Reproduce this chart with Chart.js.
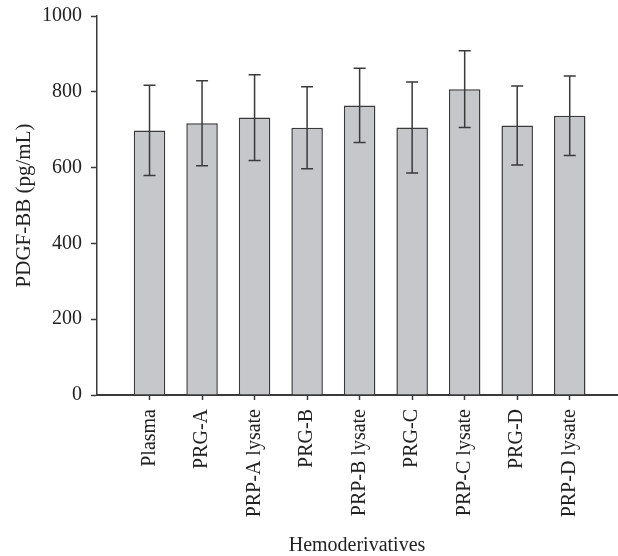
<!DOCTYPE html>
<html>
<head>
<meta charset="utf-8">
<script src="https://cdn.jsdelivr.net/npm/chart.js@4.4.1/dist/chart.umd.min.js"></script>
<style>
  html, body { margin: 0; padding: 0; background: #fff; }
  #wrap { width: 618px; height: 556px; }
</style>
</head>
<body>
<div id="wrap"><canvas id="myChart" width="618" height="556"></canvas></div>
<script>
// values
var categories = ['Plasma', 'PRG-A', 'PRP-A lysate', 'PRG-B', 'PRP-B lysate',
                  'PRG-C', 'PRP-C lysate', 'PRG-D', 'PRP-D lysate'];
var means = [698, 717, 732, 705, 764, 706, 807, 711, 737];
var sds = [119, 112, 113, 108, 98, 120, 101, 104, 105];
var yTicks = [0, 200, 400, 600, 800, 1000];

var ink = '#3a3a3a';
var serif = "'Liberation Serif', 'DejaVu Serif', serif";

// bars sit at x = 1..n on a linear axis, like the original plot
var points = [];
for (let i = 0; i < categories.length; i++) {
    points.push({ x: i + 1, y: means[i] });
}

const errorBars = {
    id: 'errorBars',
    afterDatasetsDraw(chart) {
        const ctx = chart.ctx;
        const yScale = chart.scales.y;
        const meta = chart.getDatasetMeta(0);
        ctx.save();
        ctx.strokeStyle = ink;
        ctx.lineWidth = 1.5;
        meta.data.forEach(function (bar, i) {
            var top = yScale.getPixelForValue(means[i] + sds[i]);
            var bottom = yScale.getPixelForValue(means[i] - sds[i]);
            var half = 6;
            ctx.beginPath();
            ctx.moveTo(bar.x, top);
            ctx.lineTo(bar.x, bottom);
            ctx.moveTo(bar.x - half, top);
            ctx.lineTo(bar.x + half, top);
            ctx.moveTo(bar.x - half, bottom);
            ctx.lineTo(bar.x + half, bottom);
            ctx.stroke();
        });
        ctx.restore();
    }
};

const ctx = document.getElementById('myChart');

new Chart(ctx, {
    type: 'bar',
    data: {
        datasets: [{
            label: 'PDGF-BB',
            data: points,
            backgroundColor: '#c5c7cb',
            borderColor: ink,
            borderWidth: 1.5,
            categoryPercentage: 1.0,
            barPercentage: 0.6
        }]
    },
    options: {
        responsive: false,
        animation: false,
        events: [],
        layout: { padding: { top: 16, right: 1, left: 0, bottom: 0 } },
        plugins: {
            legend: { display: false },
            tooltip: { enabled: false }
        },
        scales: {
            x: {
                type: 'linear',
                min: 0,
                max: 9.9,
                offset: false,
                afterBuildTicks: function (scale) {
                    scale.ticks = categories.map(function (c, i) { return { value: i + 1 }; });
                },
                afterFit: function (scale) {
                    scale.height = 161;
                    scale.paddingLeft = 0;
                    scale.paddingRight = 0;
                },
                ticks: {
                    autoSkip: false,
                    minRotation: 90,
                    maxRotation: 90,
                    padding: 9,
                    color: '#222',
                    font: { family: serif, size: 20 },
                    callback: function (v) { return categories[v - 1] || ''; }
                },
                grid: {
                    offset: false,
                    drawOnChartArea: false,
                    drawTicks: true,
                    tickLength: 5,
                    tickColor: ink,
                    tickWidth: 1.5
                },
                border: { display: true, color: ink, width: 2 },
                title: {
                    display: true,
                    text: 'Hemoderivatives',
                    color: '#222',
                    font: { family: serif, size: 20 },
                    padding: { top: 0, bottom: -2 }
                }
            },
            y: {
                min: 0,
                max: 1000,
                afterBuildTicks: function (scale) {
                    scale.ticks = yTicks.map(function (v) { return { value: v }; });
                },
                afterFit: function (scale) {
                    scale.width = 97;
                    scale.paddingTop = 0;
                    scale.paddingBottom = 0;
                },
                ticks: {
                    padding: 9,
                    color: '#222',
                    font: { family: serif, size: 20 },
                    callback: function (v) { return String(v); }
                },
                grid: {
                    drawOnChartArea: false,
                    drawTicks: true,
                    tickLength: 6,
                    tickColor: ink,
                    tickWidth: 1.5
                },
                border: { display: true, color: ink, width: 1.5 },
                title: {
                    display: true,
                    text: 'PDGF-BB (pg/mL)',
                    color: '#222',
                    font: { family: serif, size: 21 },
                    padding: { top: 12, bottom: 0 }
                }
            }
        }
    },
    plugins: [errorBars]
});
</script>
</body>
</html>
